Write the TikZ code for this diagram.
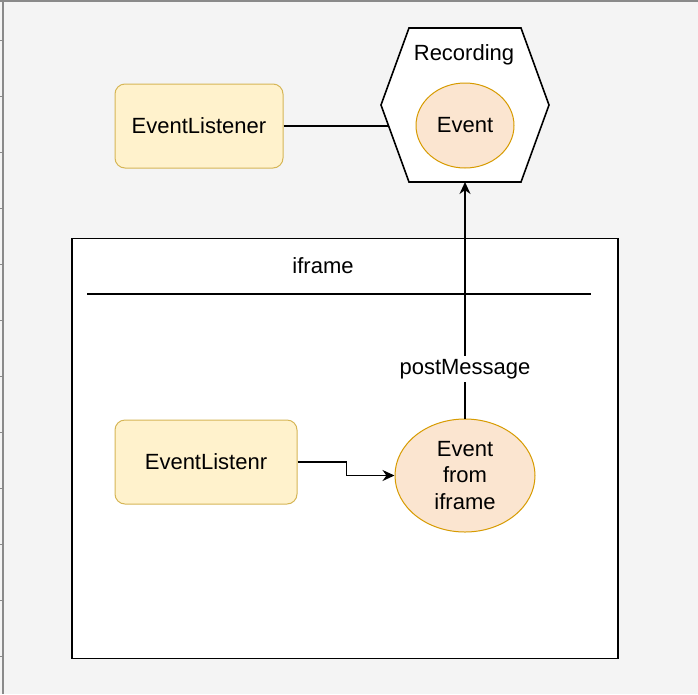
\documentclass[tikz,border=0pt]{standalone}
\usepackage{fontspec}
\setmainfont{Liberation Sans}
\usepackage{tikz}
\usetikzlibrary{positioning,arrows.meta,calc,shapes.geometric}
\definecolor{lienzo}{HTML}{F4F4F4}
\definecolor{borde}{HTML}{8A8A8A}
\definecolor{crema}{HTML}{FFF2CC}
\definecolor{ocre}{HTML}{D6B656}
\definecolor{melocoton}{HTML}{FBE5D0}
\definecolor{ambar}{HTML}{D79B00}
\tikzset{
  listener/.style={draw=ocre,fill=crema,rounded corners=10pt,line width=1pt,minimum height=84pt},
  evento/.style={ellipse,draw=ambar,fill=melocoton,line width=1pt,inner sep=0pt,align=center},
  flecha/.style={-{Stealth[length=12pt,width=11pt]}}
}

\begin{document}
\begin{tikzpicture}[x=1pt,y=-1pt,line width=1.6pt,font=\fontsize{22}{26.5}\selectfont]
    \useasboundingbox (0,0) rectangle (698,694);
    \fill[lienzo] (0,0) rectangle (698,694);
    \draw[borde,line width=2pt] (0,1) -- (698,1);
    \draw[borde,line width=2pt] (2.5,0) -- (2.5,694);
    \foreach \y in {40,96,...,656}{
      \draw[borde,line width=1pt] (0,\y) -- (4,\y);
    }
    \node[draw,fill=white,minimum width=546pt,minimum height=420pt,inner sep=0pt] (frame) at (345,448.5) {};
    \node (ftitle) at (323,266) {iframe};
    \draw (87,294) -- (591,294);
    \node[minimum width=168pt,minimum height=154pt,outer sep=0pt] (rec) at (465,105) {};
    \filldraw[fill=white] (rec.west) -- ($(rec.north west)+(28,0)$) -- ($(rec.north east)+(-28,0)$)
      -- (rec.east) -- ($(rec.south east)+(-28,0)$) -- ($(rec.south west)+(28,0)$) -- cycle;
    \node (rtitle) at (464,55) {Recording};
    \node[evento,minimum width=98pt,minimum height=85pt] (ev) at (465,125.5) {Event};
    \node[listener,minimum width=168pt] (lis) at (199,126) {EventListener};
    \node[listener,minimum width=182pt] (lis2) at (206,462) {EventListenr};
    \node[evento,minimum width=140pt,minimum height=113pt] (ev2) at (465,475.5) {Event\\from\\iframe};
    \coordinate (hexL) at (388.6,126);
    \draw (lis) -- (hexL);
    \draw[flecha] (lis2.east) -- ++(49,0) |- (ev2.west);
    \draw[flecha] (ev2.north) -- (rec.south) node[pos=0.21,fill=white,inner sep=3pt] {postMessage};
  \end{tikzpicture}
\end{document}
